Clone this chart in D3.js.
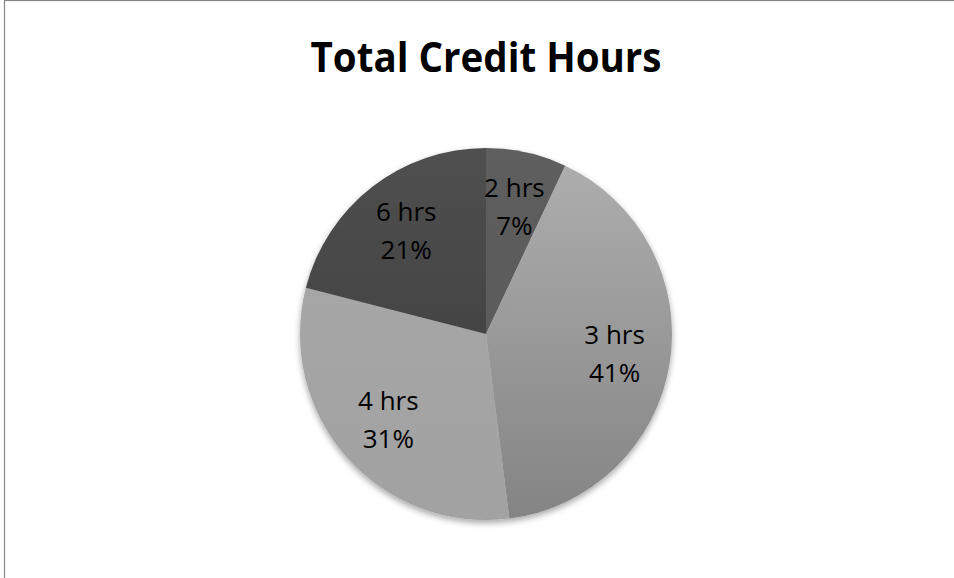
<!DOCTYPE html>
<html>
<head>
<meta charset="utf-8">
<script src="https://cdn.jsdelivr.net/npm/d3@7"></script>
<style>
  html, body { margin: 0; padding: 0; background: #fff; }
  svg { display: block; }
</style>
</head>
<body>
<div id="render-here"></div>
<script>
// slice data, clockwise from 12 o'clock
const categories = ['2 hrs', '3 hrs', '4 hrs', '6 hrs'];
const shares = [7, 41, 31, 21];
// top / bottom gradient stops per slice
const topColors = ['#5e5e5e', '#afafaf', '#a8a8a8', '#505050'];
const bottomColors = ['#575757', '#848484', '#a2a2a2', '#383838'];

const W = 954, H = 578;
const cx = 486, cy = 334, radius = 186;

const svg = d3.select('#render-here').append('svg')
    .attr('width', W)
    .attr('height', H);

const defs = svg.append('defs');

const shadow = defs.append('filter')
    .attr('id', 'pie-shadow')
    .attr('x', '-10%').attr('y', '-10%')
    .attr('width', '120%').attr('height', '120%');
shadow.append('feDropShadow')
    .attr('dx', 0)
    .attr('dy', 3)
    .attr('stdDeviation', 3)
    .attr('flood-color', '#000')
    .attr('flood-opacity', 0.35);

// vertical gradients in the pie's local space
categories.forEach((c, i) => {
    const grad = defs.append('linearGradient')
        .attr('id', 'grad' + i)
        .attr('gradientUnits', 'userSpaceOnUse')
        .attr('x1', 0).attr('x2', 0)
        .attr('y1', -radius).attr('y2', radius);
    grad.append('stop').attr('offset', '0%').attr('stop-color', topColors[i]);
    grad.append('stop').attr('offset', '100%').attr('stop-color', bottomColors[i]);
});

// chart area frame (clipped by the window on right and bottom)
svg.append('rect')
    .attr('x', 4.5)
    .attr('y', 0.5)
    .attr('width', W + 10)
    .attr('height', H + 10)
    .attr('fill', 'none')
    .attr('stroke', '#868686')
    .attr('stroke-width', 1.2);

svg.append('text')
    .attr('x', 486)
    .attr('y', 72)
    .attr('text-anchor', 'middle')
    .attr('font-family', '"Open Sans", "Noto Sans", sans-serif')
    .attr('font-weight', 'bold')
    .attr('font-size', 42)
    .attr('textLength', 351)
    .attr('lengthAdjust', 'spacingAndGlyphs')
    .attr('fill', '#000')
    .text('Total Credit Hours');

const pie = d3.pie().sort(null).value(d => d);
const arcs = pie(shares);

const arc = d3.arc().innerRadius(0).outerRadius(radius);
const labelArc = d3.arc().innerRadius(radius * 0.7).outerRadius(radius * 0.7);

const g = svg.append('g')
    .attr('transform', `translate(${cx},${cy})`);

g.append('g')
    .attr('filter', 'url(#pie-shadow)')
    .selectAll('path')
    .data(arcs)
    .enter().append('path')
        .attr('d', arc)
        .style('fill', (d, i) => `url(#grad${i})`);

const labels = g.append('g')
    .selectAll('text')
    .data(arcs)
    .enter().append('text')
        .attr('transform', d => `translate(${labelArc.centroid(d)})`)
        .attr('text-anchor', 'middle')
        .attr('font-family', '"Open Sans", "Noto Sans", sans-serif')
        .attr('font-size', 26)
        .attr('fill', '#000');

labels.append('tspan')
    .attr('x', 0)
    .attr('dy', -10)
    .text((d, i) => categories[i]);
labels.append('tspan')
    .attr('x', 0)
    .attr('dy', 38)
    .text(d => d3.format('.0%')(d.data / d3.sum(shares)));
</script>
</body>
</html>
